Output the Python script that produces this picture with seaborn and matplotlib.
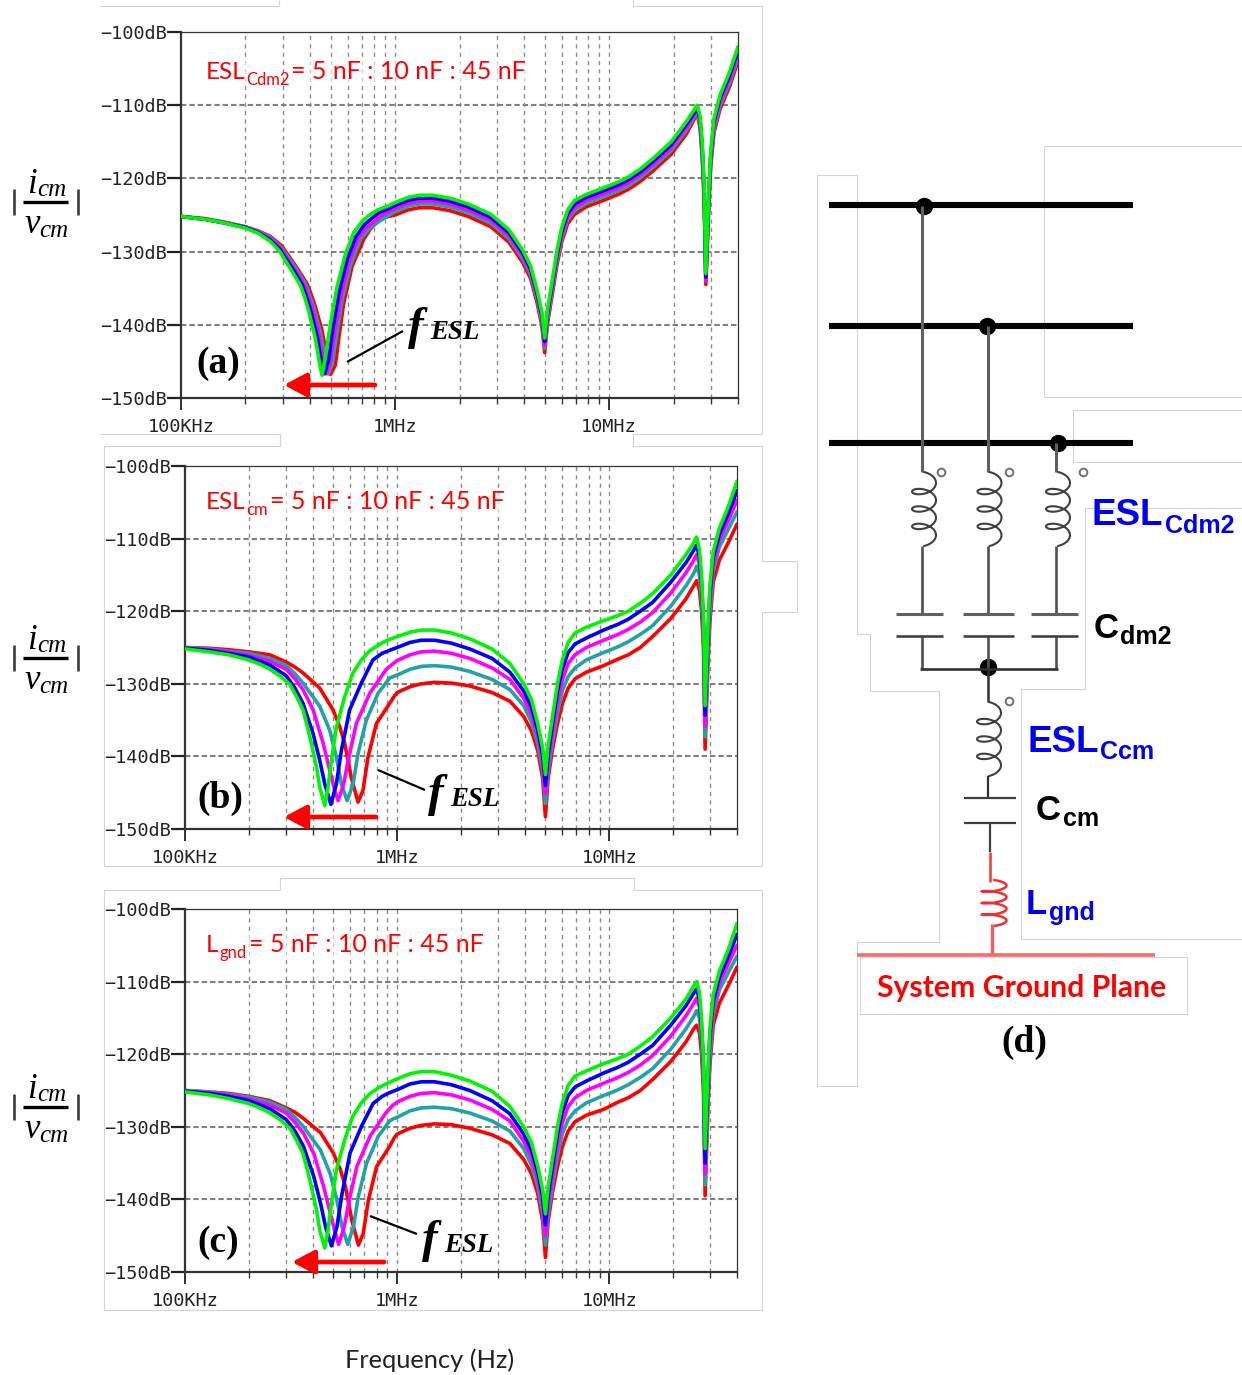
import numpy as np
import pandas as pd
import matplotlib
matplotlib.use('Agg')
import matplotlib.pyplot as plt
from matplotlib.ticker import FixedLocator, NullFormatter
import seaborn as sns

# frequencies in MHz, values in dB
high_f = [1.0, 1.15, 1.3, 1.5, 1.8, 2.2, 2.8, 3.4, 3.95, 4.3, 4.6, 4.85, 5.0, 5.15, 5.4, 5.7, 6.0, 6.4, 6.9, 7.8, 9.4, 11, 12.3, 14, 16, 19.5, 23, 25, 25.8, 26.6, 27.2, 27.8, 28.3, 29.2, 29.8, 30.9, 33, 36.6, 40]

# panel a
a_green_low_f = [0.1, 0.13, 0.16, 0.2, 0.23, 0.261, 0.288, 0.313, 0.335, 0.361, 0.378, 0.394, 0.424, 0.445, 0.456, 0.472, 0.499, 0.536, 0.586, 0.641, 0.7, 0.76, 0.83, 0.92]
a_green_low = [-125.2, -125.6, -126.1, -126.8, -127.5, -128.6, -129.9, -131.6, -133, -134.6, -136.2, -138, -141.8, -145.5, -146.9, -144.5, -139.9, -134.8, -130.4, -127.4, -125.9, -125, -124.3, -123.8]
a_blue_low_f = [0.1, 0.13, 0.16, 0.2, 0.23, 0.261, 0.29, 0.316, 0.34, 0.368, 0.385, 0.402, 0.432, 0.454, 0.468, 0.49, 0.512, 0.547, 0.598, 0.655, 0.715, 0.775, 0.84, 0.92]
a_blue_low = [-125.2, -125.6, -126.1, -126.7, -127.4, -128.4, -129.7, -131.4, -132.8, -134.5, -136.1, -137.9, -141.5, -145.2, -146.7, -144.8, -140.5, -135.6, -131, -128, -126.4, -125.5, -124.7, -124.2]
a_magenta_low_f = [0.1, 0.13, 0.16, 0.2, 0.23, 0.261, 0.291, 0.318, 0.345, 0.375, 0.392, 0.41, 0.44, 0.463, 0.478, 0.498, 0.522, 0.557, 0.608, 0.67, 0.73, 0.79, 0.85, 0.93]
a_magenta_low = [-125.2, -125.6, -126.05, -126.7, -127.3, -128.2, -129.5, -131.2, -132.7, -134.5, -136, -137.7, -141.2, -145, -146.7, -145, -141, -136.2, -131.5, -128.2, -126.8, -126, -125.2, -124.6]
a_teal_low_f = [0.1, 0.13, 0.16, 0.2, 0.23, 0.261, 0.293, 0.321, 0.35, 0.381, 0.398, 0.417, 0.448, 0.472, 0.488, 0.51, 0.534, 0.566, 0.62, 0.69, 0.75, 0.81, 0.87, 0.93]
a_teal_low = [-125.2, -125.55, -126, -126.65, -127.25, -128, -129.4, -131, -132.6, -134.4, -135.9, -137.6, -141, -144.8, -146.7, -145.2, -141.3, -136.6, -131.8, -128.3, -127, -126.2, -125.6, -125.1]
a_red_low_f = [0.1, 0.13, 0.16, 0.2, 0.23, 0.261, 0.295, 0.324, 0.355, 0.388, 0.405, 0.424, 0.456, 0.481, 0.499, 0.526, 0.546, 0.575, 0.63, 0.714, 0.767, 0.83, 0.9]
a_red_low = [-125.2, -125.5, -126, -126.6, -127.2, -127.9, -129.2, -130.9, -132.6, -134.4, -135.8, -137.5, -140.8, -144.5, -146.8, -145.5, -141.8, -137.1, -132, -128.3, -126.9, -125.9, -125.3]
a_green_high = [-123.3, -122.6, -122.3, -122.3, -122.7, -123.5, -124.9, -127, -129.8, -132, -135.2, -138.3, -141.8, -138, -134.3, -130, -126.8, -124.3, -123, -122.2, -121.3, -120.5, -119.8, -118.7, -117.3, -115, -112.2, -110.6, -110, -111.5, -115, -121, -133, -122, -116.5, -111.8, -108.6, -105.4, -102]
a_blue_high = [-123.7, -123, -122.7, -122.7, -123.1, -123.9, -125.3, -127.4, -130.2, -132.4, -135.6, -138.7, -142.3, -138.5, -134.8, -130.5, -127.3, -124.8, -123.5, -122.6, -121.7, -120.9, -120.2, -119.1, -117.7, -115.4, -112.6, -111, -110.3, -111.9, -115.5, -121.5, -133.5, -122.5, -117, -112.2, -109, -105.9, -102.5]
a_magenta_high = [-124.1, -123.4, -123.1, -123.1, -123.5, -124.3, -125.7, -127.8, -130.6, -132.8, -136, -139.2, -142.8, -139, -135.3, -131, -127.8, -125.3, -124, -123, -122.1, -121.3, -120.6, -119.5, -118.1, -115.8, -113, -111.3, -110.6, -112.3, -116, -122, -134, -123, -117.5, -112.7, -109.5, -106.4, -103]
a_teal_high = [-124.5, -123.8, -123.5, -123.5, -123.9, -124.7, -126.1, -128.2, -131, -133.2, -136.4, -139.6, -143.2, -139.4, -135.7, -131.4, -128.2, -125.7, -124.4, -123.4, -122.5, -121.7, -121, -119.9, -118.5, -116.2, -113.4, -111.6, -110.9, -112.7, -116.5, -122.5, -134, -123.5, -118, -113.2, -110, -106.9, -103.5]
a_red_high = [-125, -124.3, -124, -124, -124.4, -125.2, -126.6, -128.7, -131.5, -133.7, -136.9, -140.1, -143.8, -139.9, -136.2, -131.9, -128.7, -126.2, -124.9, -123.9, -123, -122.2, -121.5, -120.4, -119, -116.7, -113.9, -111.9, -111.2, -113.1, -117, -123, -134.5, -124, -118.5, -113.7, -110.5, -107.4, -104]

# panel b
b_green_low_f = [0.1, 0.13, 0.16, 0.2, 0.23, 0.251, 0.28, 0.312, 0.335, 0.36, 0.378, 0.394, 0.417, 0.432, 0.456, 0.472, 0.49, 0.517, 0.566, 0.617, 0.678, 0.74, 0.82, 0.9]
b_green_low = [-125.2, -125.6, -126, -126.7, -127.4, -128, -128.9, -130.1, -131.7, -133.6, -136, -138.2, -141.5, -144.3, -146.8, -144.3, -140.6, -136, -131.8, -128.6, -126.7, -125.5, -124.6, -124]
b_blue_low_f = [0.1, 0.13, 0.16, 0.2, 0.251, 0.3, 0.33, 0.36, 0.402, 0.432, 0.456, 0.487, 0.517, 0.546, 0.597, 0.678, 0.769, 0.85, 0.92]
b_blue_low = [-125.1, -125.4, -125.8, -126.3, -127.4, -128.9, -130.6, -132.7, -136.9, -140.6, -143.8, -146.6, -143.8, -139.2, -133.6, -129.9, -126.7, -125.8, -125.4]
b_magenta_low_f = [0.1, 0.13, 0.16, 0.2, 0.251, 0.3, 0.33, 0.36, 0.402, 0.448, 0.481, 0.508, 0.527, 0.56, 0.587, 0.642, 0.743, 0.889, 0.95]
b_magenta_low = [-125.1, -125.3, -125.6, -126.1, -126.9, -128, -129.3, -130.8, -133.6, -138.2, -141.9, -144.7, -146.1, -143.8, -140.6, -135.5, -131.3, -128, -127.3]
b_teal_low_f = [0.1, 0.13, 0.16, 0.2, 0.251, 0.3, 0.33, 0.36, 0.432, 0.481, 0.517, 0.546, 0.581, 0.62, 0.654, 0.716, 0.813, 0.922, 0.96]
b_teal_low = [-125, -125.2, -125.5, -125.8, -126.5, -127.5, -128.6, -129.9, -133.1, -136.4, -140.1, -143.8, -146.1, -143.8, -139.6, -135, -131.3, -129.2, -129]
b_red_low_f = [0.1, 0.13, 0.16, 0.2, 0.251, 0.3, 0.33, 0.36, 0.432, 0.499, 0.536, 0.566, 0.608, 0.654, 0.69, 0.729, 0.798, 0.922, 0.97]
b_red_low = [-125, -125.1, -125.3, -125.6, -126, -127, -127.7, -128.5, -130.6, -133.6, -135.9, -138.2, -142.9, -146.3, -144.7, -140.1, -135.5, -132.7, -131.7]
b_green_high = [-123.5, -122.9, -122.6, -122.6, -123, -123.8, -125.2, -127.2, -130, -132.2, -135.5, -138.8, -142.5, -138.5, -134.5, -130, -126.8, -124.3, -123, -122.2, -121.3, -120.6, -120, -118.9, -117.6, -115, -112.2, -110.6, -109.8, -111.5, -115, -121, -133, -122, -116.5, -111.8, -108.6, -105.4, -102.1]
b_blue_high = [-125, -124.3, -124, -124, -124.4, -125.2, -126.5, -128.4, -131, -133.2, -136.3, -139.8, -144, -139.8, -135.5, -131, -128, -125.7, -124.5, -123.7, -122.6, -121.8, -121.1, -120, -118.8, -116, -113.3, -111.6, -110.9, -112.5, -115.8, -121.5, -134.3, -123, -117.5, -112.6, -109.4, -106.4, -103.4]
b_magenta_high = [-126.8, -126, -125.6, -125.5, -125.8, -126.5, -127.8, -129.4, -132, -134.2, -137.2, -140.8, -145.2, -141, -136.8, -132.5, -129.5, -127.2, -126, -125, -124, -123.2, -122.5, -121.5, -120.2, -117.5, -114.7, -113, -112.2, -113.5, -116.8, -122.5, -135.8, -124, -119, -113.5, -110.2, -107.4, -104.7]
b_teal_high = [-128.8, -128, -127.6, -127.5, -127.7, -128.3, -129.4, -130.8, -133, -135.3, -138.2, -141.8, -146.5, -142, -138, -134, -131, -129, -127.8, -126.7, -125.7, -124.9, -124.2, -123.2, -122, -119.3, -116.5, -114.8, -113.8, -115, -118, -123.5, -137.3, -125.5, -120.5, -114.5, -111.2, -108.6, -106.3]
b_red_high = [-131.2, -130.4, -130, -129.8, -129.9, -130.3, -131.2, -132.4, -134.5, -136.5, -139.2, -143, -148.3, -143, -139, -135.5, -132.8, -130.6, -129.3, -128.4, -127.5, -126.6, -126, -125, -123.5, -121, -118.3, -116.5, -115.8, -117, -119.8, -125, -139, -127, -121.5, -116, -113, -110.4, -108]

# panel c
c_green_low_f = [0.1, 0.13, 0.16, 0.2, 0.23, 0.251, 0.28, 0.312, 0.335, 0.36, 0.378, 0.394, 0.417, 0.432, 0.456, 0.472, 0.49, 0.517, 0.566, 0.617, 0.678, 0.74, 0.82, 0.9]
c_green_low = [-125.2, -125.6, -126.1, -126.8, -127.5, -128.1, -129, -130.2, -131.8, -133.7, -136, -138.2, -141.5, -144.3, -146.7, -144.3, -140.6, -136, -131.8, -128.6, -126.7, -125.5, -124.6, -124]
c_blue_low_f = [0.1, 0.13, 0.16, 0.2, 0.251, 0.3, 0.33, 0.362, 0.405, 0.436, 0.46, 0.49, 0.52, 0.55, 0.6, 0.68, 0.77, 0.85, 0.92]
c_blue_low = [-125.1, -125.4, -125.8, -126.4, -127.5, -129, -130.6, -132.7, -136.9, -140.6, -143.8, -146.4, -143.8, -139.2, -133.6, -129.9, -126.8, -125.8, -125.3]
c_magenta_low_f = [0.1, 0.13, 0.16, 0.2, 0.251, 0.3, 0.33, 0.362, 0.405, 0.45, 0.484, 0.512, 0.53, 0.563, 0.59, 0.645, 0.745, 0.889, 0.95]
c_magenta_low = [-125.1, -125.3, -125.6, -126.2, -127, -128.1, -129.4, -130.9, -133.7, -138.2, -141.9, -144.7, -146.2, -143.8, -140.6, -135.5, -131.3, -128, -127.1]
c_teal_low_f = [0.1, 0.13, 0.16, 0.2, 0.251, 0.3, 0.33, 0.362, 0.435, 0.484, 0.52, 0.55, 0.585, 0.622, 0.656, 0.718, 0.815, 0.922, 0.96]
c_teal_low = [-125, -125.2, -125.5, -125.9, -126.6, -127.6, -128.7, -130, -133.2, -136.5, -140.1, -143.8, -146.2, -143.8, -139.6, -135, -131.3, -129.2, -128.9]
c_red_low_f = [0.1, 0.13, 0.16, 0.2, 0.251, 0.3, 0.33, 0.36, 0.435, 0.5, 0.54, 0.57, 0.612, 0.657, 0.692, 0.732, 0.8, 0.922, 0.97]
c_red_low = [-125, -125.2, -125.4, -125.8, -126.4, -127.4, -128, -128.8, -130.8, -133.6, -135.9, -138.2, -142.9, -146.3, -144.7, -140.1, -135.5, -132.7, -131.5]
c_green_high = [-123.4, -122.7, -122.4, -122.4, -122.9, -123.7, -125.1, -127.2, -130, -132.2, -135.4, -138.6, -142, -138.3, -134.4, -130, -126.8, -124.3, -123, -122.3, -121.3, -120.6, -120, -118.9, -117.6, -115, -112.4, -110.6, -110, -111.5, -115, -121, -133, -122, -116.5, -111.8, -108.6, -105.4, -102]
c_blue_high = [-124.9, -124.1, -123.8, -123.8, -124.2, -125, -126.4, -128.2, -131, -133.2, -136.2, -139.6, -143.5, -139.5, -135.5, -131, -128, -125.7, -124.5, -123.7, -122.6, -121.8, -121.1, -120, -118.8, -116, -113.3, -111.6, -111, -112.5, -115.8, -121.5, -135, -123, -117.5, -112.6, -109.4, -106.4, -103.5]
c_magenta_high = [-126.6, -125.8, -125.4, -125.3, -125.6, -126.3, -127.6, -129.2, -132, -134.2, -137.2, -140.8, -145, -140.8, -136.8, -132.5, -129.5, -127.2, -126, -125, -124, -123.2, -122.5, -121.5, -120.2, -117.5, -114.7, -113, -112.3, -113.5, -116.8, -122.5, -136.5, -124, -119, -113.5, -110.2, -107.4, -105]
c_teal_high = [-128.7, -127.8, -127.4, -127.3, -127.5, -128.1, -129.2, -130.6, -133, -135.3, -138.2, -141.8, -146.3, -142, -138, -134, -131, -129, -127.8, -126.7, -125.7, -124.9, -124.2, -123.2, -122, -119.3, -116.5, -114.8, -114, -115, -118, -123.5, -138, -125.5, -120.5, -114.5, -111.2, -108.6, -106.5]
c_red_high = [-131, -130.2, -129.8, -129.6, -129.7, -130.2, -131.1, -132.3, -134.5, -136.5, -139.2, -143, -148, -143, -139, -135.5, -132.8, -130.6, -129.3, -128.4, -127.6, -126.6, -126, -125, -123.5, -121, -118.3, -116.5, -116, -117, -119.8, -125, -139.5, -127, -121.5, -116, -113, -110.4, -108]

series_names = ['red', 'teal', 'magenta', 'blue', 'green']
series_colors = ['#ff0000', '#1fa3a8', '#ff00ff', '#0000ff', '#00f500']

db_ticks = [-100, -110, -120, -130, -140, -150]
db_labels = ['\u2212100dB', '\u2212110dB', '\u2212120dB', '\u2212130dB', '\u2212140dB', '\u2212150dB']
freq_ticks = [1e5, 1e6, 1e7]
freq_labels = ['100KHz', '1MHz', '10MHz']

W, H = 1242, 1375
sns.set_style('white')
plt.rcParams['font.family'] = ['Liberation Sans', 'DejaVu Sans']

fig = plt.figure(figsize=(W / 100, H / 100), dpi=100, facecolor='white')


def make_frame(lows, highs):
    rows = []
    for name, (lf, ld), hd in zip(series_names, lows, highs):
        for f, d in zip(list(lf) + high_f, list(ld) + hd):
            rows.append({'series': name, 'freq': f * 1e6, 'db': d})
    return pd.DataFrame(rows)


def draw_panel(left, right, top, bottom, df):
    ax = fig.add_axes([left / W, 1 - bottom / H, (right - left) / W, (bottom - top) / H])
    ax.set_xscale('log')
    minors = [m * 10**e for e in (5, 6, 7) for m in range(2, 10) if m * 10**e < 4e7]
    for x in minors + freq_ticks[1:]:
        ax.axvline(x, color='#8c8c8c', lw=1.0, ls=(0, (3, 3)), zorder=1)
    for y in db_ticks[1:-1]:
        ax.axhline(y, color='#808080', lw=1.5, ls=(0, (2.6, 1.4)), zorder=1)
    sns.lineplot(data=df, x='freq', y='db', hue='series', hue_order=series_names,
                 palette=series_colors, sort=False, estimator=None, legend=False,
                 linewidth=2.6, ax=ax, zorder=3)
    ax.set_xlim(1e5, 4e7)
    ax.set_ylim(-150, -100)
    ax.set_xlabel('')
    ax.set_ylabel('')
    ax.set_yticks(db_ticks)
    ax.set_yticklabels(db_labels, family='DejaVu Sans Mono', fontsize=13.3, color='#222222')
    ax.xaxis.set_major_locator(FixedLocator(freq_ticks))
    ax.set_xticklabels(freq_labels, family='DejaVu Sans Mono', fontsize=13.3, color='#222222')
    ax.xaxis.set_minor_locator(FixedLocator(minors + [4e7]))
    ax.xaxis.set_minor_formatter(NullFormatter())
    ax.tick_params(axis='y', which='major', left=True, length=10, width=1.6, pad=0, color='#222222')
    ax.tick_params(axis='x', which='major', bottom=True, length=8.5, width=1.3, pad=6, color='#222222')
    ax.tick_params(axis='x', which='minor', bottom=True, length=4, width=1.0, color='#333333')
    for side, lw in [('left', 1.6), ('bottom', 1.6), ('top', 0.9), ('right', 0.9)]:
        ax.spines[side].set_visible(True)
        ax.spines[side].set_linewidth(lw)
        ax.spines[side].set_color('#333333')
    ax.patch.set_alpha(0)
    return ax


frame_a = make_frame([(a_red_low_f, a_red_low), (a_teal_low_f, a_teal_low), (a_magenta_low_f, a_magenta_low),
                      (a_blue_low_f, a_blue_low), (a_green_low_f, a_green_low)],
                     [a_red_high, a_teal_high, a_magenta_high, a_blue_high, a_green_high])
frame_b = make_frame([(b_red_low_f, b_red_low), (b_teal_low_f, b_teal_low), (b_magenta_low_f, b_magenta_low),
                      (b_blue_low_f, b_blue_low), (b_green_low_f, b_green_low)],
                     [b_red_high, b_teal_high, b_magenta_high, b_blue_high, b_green_high])
frame_c = make_frame([(c_red_low_f, c_red_low), (c_teal_low_f, c_teal_low), (c_magenta_low_f, c_magenta_low),
                      (c_blue_low_f, c_blue_low), (c_green_low_f, c_green_low)],
                     [c_red_high, c_teal_high, c_magenta_high, c_blue_high, c_green_high])

draw_panel(181, 738, 32, 398, frame_a)
draw_panel(185, 737, 466, 829, frame_b)
draw_panel(185, 737, 909, 1272, frame_c)

# overlay in pixel units for annotations and the schematic
ov = fig.add_axes([0, 0, 1, 1], zorder=10)
ov.set_xlim(0, W)
ov.set_ylim(H, 0)
ov.axis('off')


def text(x, y, s, size, color='black', family='Liberation Sans', **kw):
    ov.text(x, y, s, fontsize=size, color=color, family=family, va='baseline', **kw)


def poly(xs, ys, color='#d4d4d4', lw=0.8, **kw):
    ov.plot(xs, ys, color=color, lw=lw, solid_capstyle='butt', **kw)


# faint screenshot outlines
outlines = [
    ([100, 279, 279], [6, 6, 0]), ([633, 633, 762, 762, 633, 633], [0, 6, 6, 434, 434, 446]),
    ([100, 280, 280], [434, 434, 446]),
    ([280, 280, 104, 104, 762, 762, 797, 797, 762, 762, 632], [434, 446, 446, 866, 866, 612, 612, 561, 561, 446, 446]),
    ([104, 280, 280, 634, 634, 762, 762, 104, 104], [890, 890, 878, 878, 890, 890, 1310, 1310, 890]),
    ([857, 817, 817, 857, 857, 939, 939, 870, 870, 857, 857], [175, 175, 1086, 1086, 942, 942, 691, 691, 634, 634, 175]),
    ([1242, 1044, 1044, 1242], [146, 146, 397, 397]), ([1242, 1073, 1073, 1242], [410, 410, 462, 462]),
    ([1242, 1085, 1085, 1021, 1021, 1242], [508, 508, 689, 689, 939, 939]),
    ([860, 1187, 1187, 860, 860], [957, 957, 1014, 1014, 957]),
]
for xs, ys in outlines:
    poly(xs, ys)

# formula at the left of each panel
for yc in [202, 658, 1107]:
    text(27, yc - 9, 'i', 25, family='Liberation Serif', style='italic')
    text(37, yc - 6, 'cm', 18, family='Liberation Serif', style='italic')
    text(25, yc + 31, 'v', 25, family='Liberation Serif', style='italic')
    text(39, yc + 35, 'cm', 18, family='Liberation Serif', style='italic')
    poly([23, 68], [yc, yc], color='black', lw=2.4)
    poly([14, 14], [yc - 13, yc + 13], color='#333333', lw=1.8)
    poly([78, 78], [yc - 13, yc + 13], color='#333333', lw=1.8)

# red parameter labels
label_font = 'Lato'
white_back = dict(facecolor='white', edgecolor='none', alpha=0.6, pad=1)
text(206, 79, 'ESL', 17.5, 'red', label_font, bbox=white_back)
text(246, 85, 'Cdm2', 12, 'red', label_font)
text(291, 79, '= 5 nF : 10 nF : 45 nF', 18, 'red', label_font, bbox=white_back)
text(206, 509, 'ESL', 17.5, 'red', label_font, bbox=white_back)
text(246, 515, 'cm', 12, 'red', label_font)
text(270, 509, '= 5 nF : 10 nF : 45 nF', 18, 'red', label_font, bbox=white_back)
text(206, 952, 'L', 17.5, 'red', label_font, bbox=white_back)
text(219, 958, 'gnd', 12, 'red', label_font)
text(249, 952, '= 5 nF : 10 nF : 45 nF', 18, 'red', label_font, bbox=white_back)

# panel letters
bold_serif = dict(family='Liberation Serif', weight='bold', ha='center')
text(218, 373, '(a)', 27, **bold_serif)
text(220, 808, '(b)', 27, **bold_serif)
text(218, 1252, '(c)', 27, **bold_serif)
text(1024, 1052, '(d)', 27, **bold_serif)

# f_ESL labels and pointer lines
for fx, base, line in [(408, 339, ([347, 403], [362, 331])),
                       (428, 806, ([378, 425], [770, 790])),
                       (422, 1252, ([370, 417], [1216, 1234]))]:
    text(fx, base, 'f', 34, family='Liberation Serif', style='italic', weight='bold')
    text(fx + 22, base, 'ESL', 19.4, family='Liberation Serif', style='italic', weight='bold')
    poly(line[0], line[1], color='black', lw=1.6)

# red arrows
for x0, x1, y in [(375, 284, 385), (376, 284, 817), (384, 292, 1262)]:
    ov.annotate('', xy=(x1, y), xytext=(x0, y),
                arrowprops=dict(arrowstyle='-|>,head_length=0.75,head_width=0.4', color='red', lw=3.4,
                                shrinkA=0, shrinkB=0, mutation_scale=18))

text(345, 1368, 'Frequency (Hz)', 18.3, '#222222', 'Lato')

# schematic (d)
for y in [205, 326, 443]:
    poly([829, 1133], [y, y], color='black', lw=4.4)
for x, y in [(924, 206), (987, 326), (1058, 443), (988, 667)]:
    ov.plot([x], [y], 'o', color='black', ms=12.5, mew=0)


def coil(x0, top, bottom, color='#404040', turns=3, amp=12, bulge=6.5, lw=1.5):
    t = np.linspace(-np.pi / 2, 2 * np.pi * turns + np.pi / 2, 300)
    pitch = (bottom - top - 2 * bulge) / (t[-1] - t[0])
    xs = x0 + 2 + amp * np.cos(t)
    ys = top + bulge + (t - t[0]) * pitch + bulge * np.sin(t)
    ov.plot(xs, ys, color=color, lw=lw)


for x0, w_top in [(922, 206), (987.5, 326), (1056, 443)]:
    poly([x0, x0], [w_top, 472], color='#606060', lw=2.2)
    coil(x0, 472, 546)
    poly([x0, x0], [546, 614], color='#505050', lw=1.9)
    poly([x0, x0], [636, 669], color='#505050', lw=1.9)
for a, b in [(896, 943), (963, 1014), (1031, 1078)]:
    poly([a, b], [614, 614], color='#606060', lw=2.2)
    poly([a, b], [636, 636], color='#404040', lw=1.9)
poly([920, 1058], [669, 669], color='#303030', lw=1.9)
poly([988, 988], [667, 702], color='#303030', lw=1.8)
coil(987, 702, 776)
poly([988, 988], [776, 798], color='#303030', lw=1.6)
poly([964, 1016], [798, 798], color='#404040', lw=1.6)
poly([964, 1016], [823, 823], color='#404040', lw=1.6)
poly([990, 990], [823, 852], color='#404040', lw=1.6)
poly([990, 990], [852, 882], color='#f04040', lw=1.9)
coil(992, 880, 926, color='#f03030', amp=12.5, bulge=2.6, lw=1.8)
poly([992, 992], [924, 955], color='#f06060', lw=2.4)
poly([857, 1155], [955, 955], color='#f07070', lw=2.6)
for x, y in [(941, 472), (1009, 472), (1083, 472), (1009, 701)]:
    ov.plot([x], [y], 'o', mfc='white', mec='#707070', ms=5.5, mew=1.4)

blue = '#0000f0'
text(1092, 525, 'ESL', 26.5, blue, weight='bold')
text(1165, 533, 'Cdm2', 18, blue, weight='bold')
text(1094, 638, 'C', 25, 'black', weight='bold')
text(1120, 644, 'dm2', 18, 'black', weight='bold')
text(1028, 752, 'ESL', 26.5, blue, weight='bold')
text(1100, 759, 'Ccm', 18, blue, weight='bold')
text(1036, 820, 'C', 25, 'black', weight='bold')
text(1063, 826, 'cm', 18, 'black', weight='bold')
text(1026, 914, 'L', 25, blue, weight='bold')
text(1049, 920, 'gnd', 18, blue, weight='bold')
text(877, 997, 'System Ground Plane', 21.7, 'red', 'Lato', weight='bold')

fig.savefig('out.png', dpi=100)
